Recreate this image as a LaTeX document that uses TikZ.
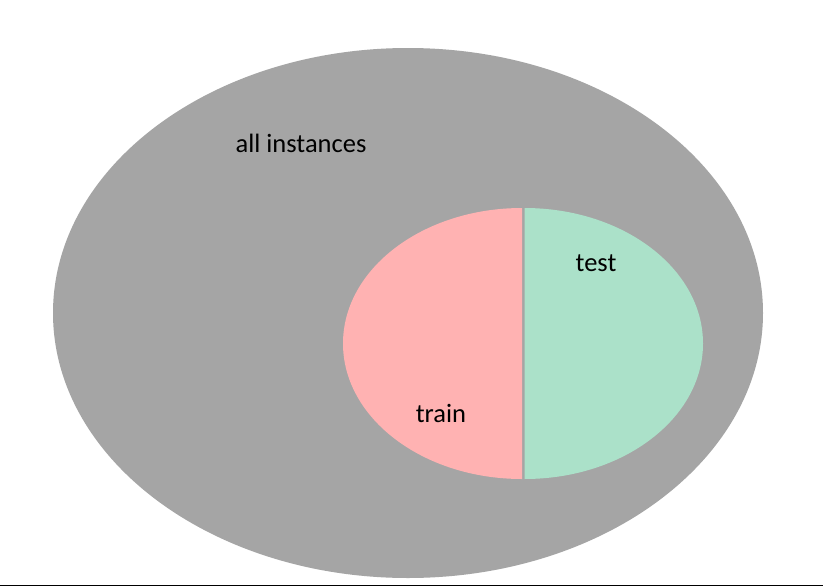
\documentclass[tikz,border=0pt]{standalone}
\usepackage{fontspec}
\setmainfont{Carlito}
\definecolor{outergray}{HTML}{A5A5A5}
\definecolor{trainpink}{HTML}{FFB2B2}
\definecolor{testgreen}{HTML}{ABE1C9}
\definecolor{baseline}{HTML}{262626}
\begin{document}
\begin{tikzpicture}[x=1pt,y=-1pt,
  lbl/.style={font=\fontsize{26.5}{30}\selectfont, text=black, inner sep=0pt}]
\useasboundingbox (0,0) rectangle (823,587);
\fill[white] (0,0) rectangle (823,587);
% outer set
\fill[outergray] (408,313) ellipse[x radius=355, y radius=265];
% train half
\fill[trainpink] (522,208) arc[start angle=270, end angle=90, x radius=179, y radius=135.5] -- cycle;
% test half
\fill[testgreen] (524.5,208) arc[start angle=-90, end angle=90, x radius=178.5, y radius=135.5] -- cycle;
\node[lbl] (all) at (301,143) {all instances};
\node[lbl] (test) at (596,263) {test};
\node[lbl] (train) at (441,413) {train};
\coordinate (bl) at (0,585.5);
\coordinate (br) at (823,585.5);
\draw[baseline, line width=1.5pt] (bl) -- (br);
\end{tikzpicture}
\end{document}
